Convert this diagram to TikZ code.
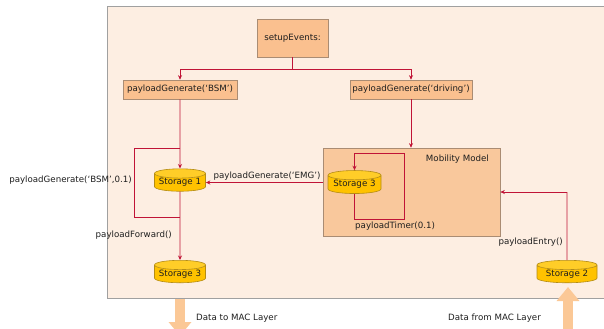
\documentclass[tikz,border=0pt]{standalone}
\usepackage{fontspec}
\setmainfont{DejaVu Sans}
\usetikzlibrary{shapes.geometric,arrows.meta}
\definecolor{bgfill}{RGB}{253,238,226}
\definecolor{bgborder}{RGB}{160,160,160}
\definecolor{boxfill}{RGB}{250,192,143}
\definecolor{boxborder}{RGB}{170,140,115}
\definecolor{mobfill}{RGB}{249,200,156}
\definecolor{cylfill}{RGB}{255,194,0}
\definecolor{cyltop}{RGB}{255,205,40}
\definecolor{cylborder}{RGB}{180,140,20}
\definecolor{linered}{RGB}{192,20,55}
\definecolor{bigarr}{RGB}{251,200,150}
\definecolor{txt}{RGB}{30,30,30}
\newcommand{\lbl}{\fontsize{8.7}{10}\selectfont\color{txt}}
\tikzset{
  box/.style={draw=boxborder, fill=boxfill, inner sep=0pt, font=\lbl, line width=0.6bp},
  store/.style={cylinder, shape border rotate=90, aspect=0.22, draw=cylborder,
    cylinder uses custom fill, cylinder body fill=cylfill, cylinder end fill=cyltop,
    inner sep=0pt, font=\lbl, line width=0.6bp},
  conn/.style={draw=linered, line width=0.8bp},
  arr/.style={conn, -{Stealth[length=4.5bp,width=4bp]}},
  lab/.style={font=\lbl, inner sep=0pt},
  bigarrow/.style={draw=bigarr, line width=10bp, -{Triangle[length=14bp,width=22bp]}}
}
\begin{document}
\begin{tikzpicture}[x=1bp,y=-1bp]
\useasboundingbox (0,0) rectangle (604,328);
\clip (0,0) rectangle (604,328);
\fill[white] (0,0) rectangle (604,328);
% outer area
\node[draw=bgborder, fill=bgfill, line width=1bp, minimum width=500bp, minimum height=292bp, inner sep=0pt, anchor=north west] (outer) at (107,6) {};
% boxes
\node[box, minimum width=71bp, minimum height=38bp] (setup) at (292.5,38) {setupEvents:};
\node[box, minimum width=114bp, minimum height=19bp] (bsm) at (180,89.5) {payloadGenerate(‘BSM’)};
\node[box, minimum width=122bp, minimum height=19bp] (drv) at (411,89.5) {payloadGenerate(‘driving’)};
\node[box, fill=mobfill, minimum width=177bp, minimum height=88bp] (mob) at (411.5,192) {};
\node[lab, anchor=east] (mobl) at (489,159) {Mobility Model};
% storages
\node[store, minimum width=51bp, minimum height=21bp] (s1) at (180,182.5) {Storage 1};
\node[store, minimum width=51bp, minimum height=22bp] (s3) at (180,274) {Storage 3};
\node[store, minimum width=53bp, minimum height=23bp] (is3) at (354.5,184.5) {Storage 3};
\node[store, minimum width=60bp, minimum height=22bp] (s2) at (567,274) {Storage 2};
% coordinates
\coordinate (split) at (292.5,69);
\coordinate (lpA) at (180,148);
\coordinate (lpB) at (134,148);
\coordinate (lpC) at (134,217);
\coordinate (lpD) at (180,217);
\coordinate (ilA) at (354.5,219);
\coordinate (ilB) at (404,219);
\coordinate (ilC) at (404,153);
\coordinate (ilD) at (354.5,153);
\coordinate (enA) at (567,192);
\coordinate (dnA) at (180,299);
\coordinate (dnB) at (180,336);
\coordinate (upA) at (568,336);
\coordinate (upB) at (568,287);
% connectors
\draw[conn] (setup.south) -- (split);
\draw[arr] (split) -| (bsm.north);
\draw[arr] (split) -| (drv.north);
\draw[arr] (bsm.south) -- (s1.north);
\draw[conn] (lpA) -- (lpB) -- (lpC) -- (lpD);
\draw[arr] (s1.south) -- (s3.north);
\draw[arr] (mob.west |- s1.east) -- (s1.east);
\draw[arr] (drv.south) -- (mob.north -| drv.south);
\draw[conn] (is3.south) -- (ilA) -- (ilB) -- (ilC) -- (ilD);
\draw[arr] (ilD) -- (is3.north);
\draw[conn] (s2.north) -- (enA);
\draw[arr] (enA) -- (mob.east |- enA);
\draw[bigarrow] (dnA) -- (dnB);
\draw[bigarrow] (upA) -- (upB);
% labels
\node[lab, anchor=east] (lbsm) at (132,180) {payloadGenerate(‘BSM’,0.1)};
\node[lab, anchor=east] (lfwd) at (172,235) {payloadForward()};
\node[lab] (lemg) at (267,176) {payloadGenerate(‘EMG’)};
\node[lab, anchor=west] (ltim) at (355,226) {payloadTimer(0.1)};
\node[lab, anchor=east] (lent) at (563,242) {payloadEntry()};
\node[lab, anchor=west] (ldto) at (196,318) {Data to MAC Layer};
\node[lab, anchor=west] (ldfr) at (448,318) {Data from MAC Layer};
\end{tikzpicture}
\end{document}
